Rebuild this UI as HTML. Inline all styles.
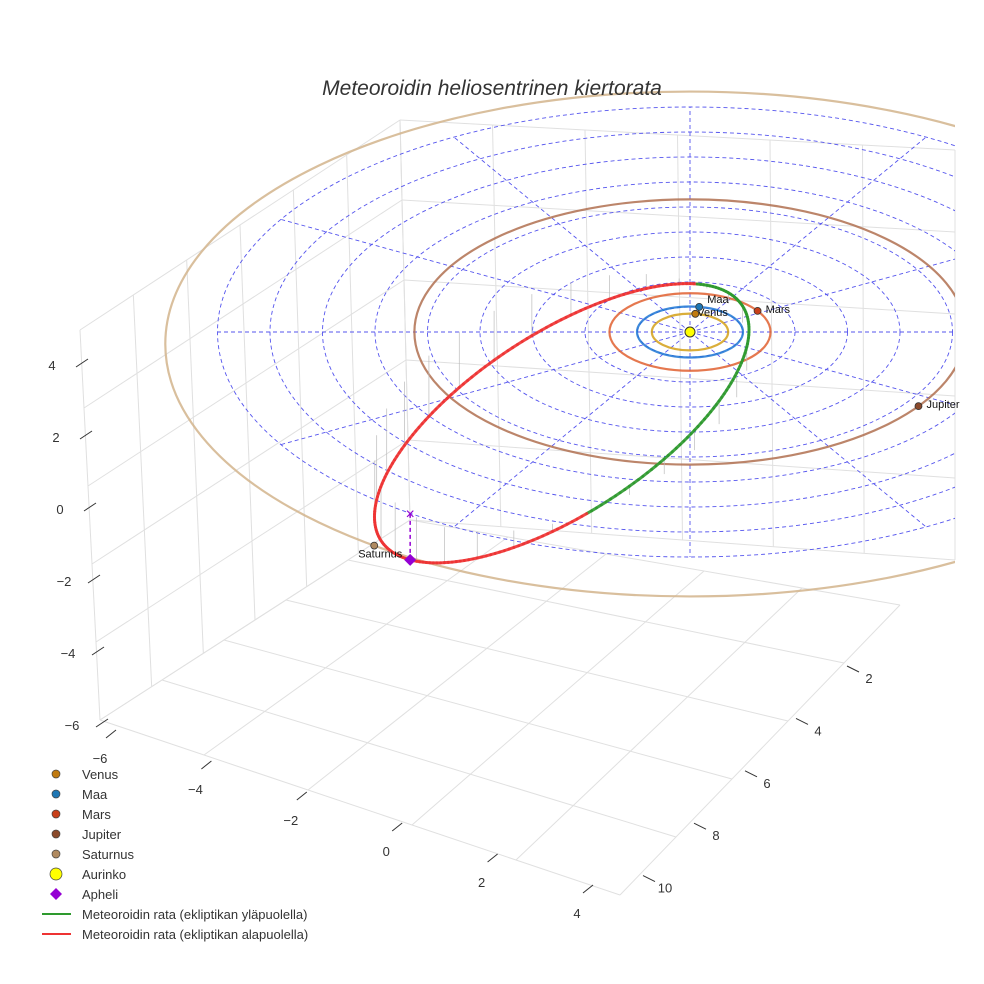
<!DOCTYPE html>
<html><head><meta charset="utf-8"><style>
body{margin:0;background:#fff}
svg{display:block;font-family:"Liberation Sans",sans-serif}
</style></head><body>
<svg id="c" width="984" height="984" viewBox="0 0 984 984">
<rect width="984" height="984" fill="#fff"/>
<g id="box"></g><g id="grid"></g><g id="orbits"></g><g id="met"></g><g id="pts"></g><g id="axes"></g><g id="legend"></g>
<text x="492" y="95" text-anchor="middle" font-size="21" font-style="italic" fill="#333">Meteoroidin heliosentrinen kiertorata</text>
</svg>
<script>
const planetNames=["Venus","Maa","Mars","Jupiter","Saturnus"];
const planetRadii=[0.72,1.0,1.52,5.2,9.9];
const planetAngles=[-82,-80,-33,34,127];
const planetColors=["#d4a017","#1f77d4","#e06030","#b07050","#d2b48c"];
const planetDot=["#c07a10","#1f77b4","#c8401a","#8b4a2b","#b08a60"];
const zTicks=[4,2,0,-2,-4,-6];
const xTicks=[-6,-4,-2,0,2,4];
const yTicks=[2,4,6,8,10];
const metCenter=[-2.42,2.78,-0.885];
const metA=[3.41,-3.15,1.61];
const metB=[0.925,3.96,1.10];
const aphelion=[-5.28,7.13,-2.0];
const NS="http://www.w3.org/2000/svg";
function P(x,y,z){return [690+53*x,332+25.5*y-23*(z||0)];}
function el(par,tag,at){const e=document.createElementNS(NS,tag);for(const k in at)e.setAttribute(k,at[k]);document.getElementById(par).appendChild(e);return e;}
function lerp(a,b,t){return [a[0]+(b[0]-a[0])*t,a[1]+(b[1]-a[1])*t];}
function wall(q,nu,nv,name){for(let i=0;i<=nu;i++){const t=i/nu;const a=lerp(q[0],q[1],t),b=lerp(q[3],q[2],t);
 const l=el('box','line',{x1:a[0],y1:a[1],x2:b[0],y2:b[1],stroke:'#e0e0e0','stroke-width':1});
 }
 for(let j=0;j<=nv;j++){const t=j/nv;const a=lerp(q[0],q[3],t),b=lerp(q[1],q[2],t);
 const l=el('box','line',{x1:a[0],y1:a[1],x2:b[0],y2:b[1],stroke:'#e0e0e0','stroke-width':1});
 }}
wall([[80,330],[400,120],[410,520],[100,720]],6,5,'left-wall');
wall([[100,720],[410,520],[900,605],[620,895]],5,5,'floor');
wall([[400,120],[955,150],[955,560],[410,520]],6,5,'back-wall');
const defs=document.createElementNS(NS,'defs');defs.innerHTML='<clipPath id="clp"><rect x="0" y="0" width="955" height="984"/></clipPath>';document.getElementById('c').prepend(defs);
document.getElementById('grid').setAttribute('clip-path','url(#clp)');
document.getElementById('orbits').setAttribute('clip-path','url(#clp)');
for(let r=1;r<=9;r++){const c=P(0,0);const e=el('grid','ellipse',{cx:c[0],cy:c[1],rx:52.5*r,ry:25*r,fill:'none',stroke:'#5555ee','stroke-width':0.9,'stroke-dasharray':'4,3'});
 }
for(let a=0;a<360;a+=30){const c=P(0,0),q=[690+472*Math.cos(a*Math.PI/180),332+225*Math.sin(a*Math.PI/180)];
 const l=el('grid','line',{x1:c[0],y1:c[1],x2:q[0],y2:q[1],stroke:'#5555ee','stroke-width':0.9,'stroke-dasharray':'4,3'});
 }
planetRadii.forEach((r,i)=>{const c=P(0,0);const e=el('orbits','ellipse',{cx:c[0],cy:c[1]+(i==4?12:0),rx:53*r,ry:25.5*r,fill:'none',stroke:planetColors[i],'stroke-width':2.2,opacity:0.85});
 });
function mp(t){const c=Math.cos(t),s=Math.sin(t);return [0,1,2].map(k=>metCenter[k]+metA[k]*c+metB[k]*s);}
const N=240;
for(let i=0;i<N;i+=8){const p=mp(i/N*2*Math.PI);const a=P(p[0],p[1],p[2]),b=P(p[0],p[1],0);
 const l=el('met','line',{x1:a[0],y1:a[1],x2:b[0],y2:b[1],stroke:'#bbb','stroke-width':0.7});
 }
for(let i=0;i<N;i++){const p1=mp(i/N*2*Math.PI),p2=mp((i+1)/N*2*Math.PI);const a=P(...p1),b=P(...p2);
 const l=el('met','line',{x1:a[0],y1:a[1],x2:b[0],y2:b[1],stroke:(p1[2]+p2[2])/2>=0?'#2e9a2e':'#ee3333','stroke-width':3,'stroke-linecap':'round',opacity:0.9});
 }
{const a=P(...aphelion),b=P(aphelion[0],aphelion[1],0);
 let l=el('pts','line',{x1:a[0],y1:a[1],x2:b[0],y2:b[1],stroke:'#9400d3','stroke-width':1.5,'stroke-dasharray':'4,3'});
 
 let t=el('pts','text',{x:b[0],y:b[1]+5,'text-anchor':'middle','font-size':16,fill:'#9400d3'});t.textContent='×';
 
 let d=el('pts','path',{d:`M${a[0]} ${a[1]-6}L${a[0]+6} ${a[1]}L${a[0]} ${a[1]+6}L${a[0]-6} ${a[1]}Z`,fill:'#9400d3'});
 }
{const c=P(0,0);const s=el('pts','circle',{cx:c[0],cy:c[1],r:5,fill:'#ffff00',stroke:'#333','stroke-width':1});
 }
planetNames.forEach((n,i)=>{const a=planetAngles[i]*Math.PI/180;const q=P(planetRadii[i]*Math.cos(a),planetRadii[i]*Math.sin(a));
 const left=n==="Saturnus";if(left)q[1]+=12;
 const c=el('pts','circle',{cx:q[0],cy:q[1],r:3.5,fill:planetDot[i],stroke:'#333','stroke-width':0.8});
 
 const t=el('pts','text',{x:left?q[0]-16:q[0]+(n==="Venus"?2:8),y:q[1]+(left?12:(n==="Maa"?-4:2)),'font-size':11,fill:'#111'});
 t.textContent=n;});
zTicks.forEach(v=>{const y=365+(4-v)*36;const x=52+(4-v)*2;
 const t=el('axes','text',{x:x,y:y+5,'font-size':13,fill:'#333','text-anchor':'middle'});t.textContent=v<0?'−'+(-v):v;
 
 const l=el('axes','line',{x1:x+24,y1:y+2,x2:x+36,y2:y-6,stroke:'#333'});});
xTicks.forEach(v=>{const x=100+(v+6)*47.7,y=758+(v+6)*15.5;
 const t=el('axes','text',{x:x,y:y+5,'font-size':13,fill:'#333','text-anchor':'middle'});t.textContent=v<0?'−'+(-v):v;
 
 const l=el('axes','line',{x1:x+6,y1:y-20,x2:x+16,y2:y-28,stroke:'#333'});});
yTicks.forEach(v=>{const x=869-(v-2)*25.5,y=678+(v-2)*26.2;
 const t=el('axes','text',{x:x,y:y+5,'font-size':13,fill:'#333','text-anchor':'middle'});t.textContent=v;
 
 const l=el('axes','line',{x1:x-22,y1:y-12,x2:x-10,y2:y-6,stroke:'#333'});});
const legNames=["Venus","Maa","Mars","Jupiter","Saturnus","Aurinko","Apheli","Meteoroidin rata (ekliptikan yläpuolella)","Meteoroidin rata (ekliptikan alapuolella)"];
const legColors=["#c07a10","#1f77b4","#c8401a","#8b4a2b","#b08a60","#ffff00","#9400d3","#2e9a2e","#ee3333"];
legNames.forEach((n,i)=>{const y=774+i*20;let m;
 if(i<6)m=el('legend','circle',{cx:56,cy:y,r:i==5?6:4,fill:legColors[i],stroke:'#444','stroke-width':0.7});
 else if(i==6)m=el('legend','path',{d:`M56 ${y-6}L62 ${y}L56 ${y+6}L50 ${y}Z`,fill:legColors[i]});
 else m=el('legend','line',{x1:42,y1:y,x2:71,y2:y,stroke:legColors[i],'stroke-width':2});
 
 const t=el('legend','text',{x:82,y:y+5,'font-size':13,fill:'#333'});t.textContent=n;
 });
</script>
</body></html>
